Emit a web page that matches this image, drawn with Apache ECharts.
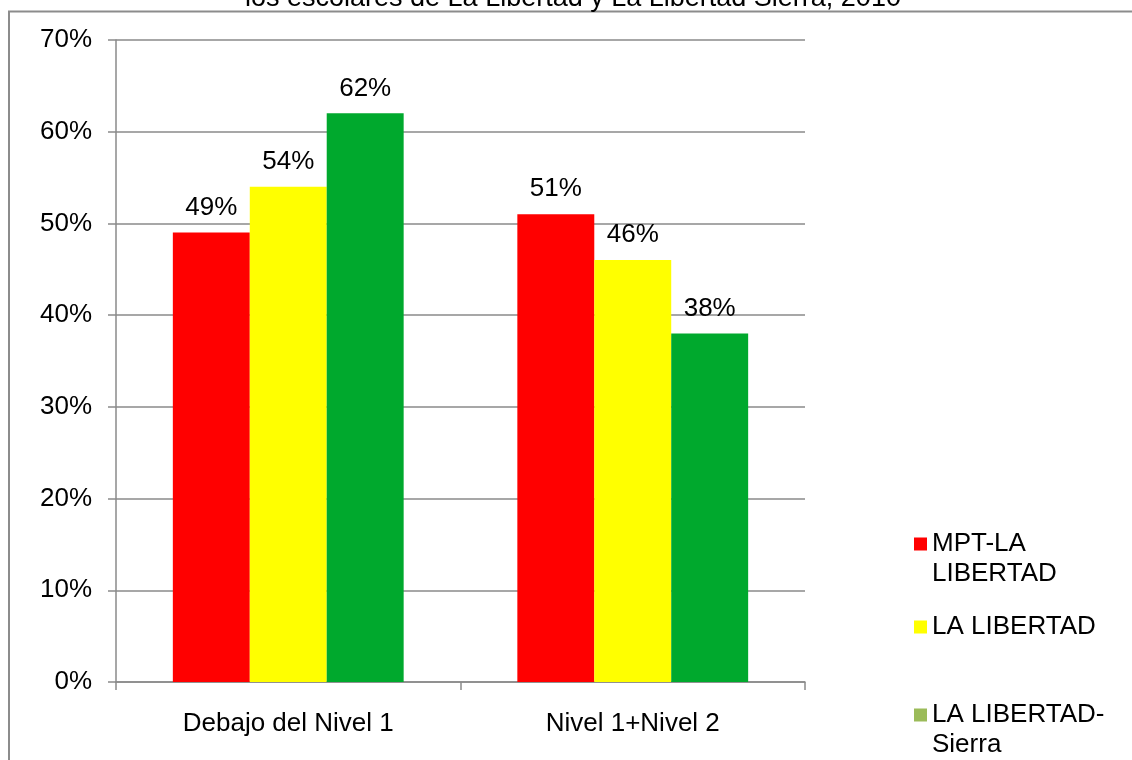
<!DOCTYPE html>
<html>
<head>
<meta charset="utf-8">
<script src="https://cdn.jsdelivr.net/npm/echarts@6/dist/echarts.min.js"></script>
<style>
  html, body { margin: 0; padding: 0; background: #fff; }
  #chart { width: 1132px; height: 760px; }
</style>
</head>
<body>
<div id="chart"></div>
<script>
// Categories and values (percent of students)
const categories = ['Debajo del Nivel 1', 'Nivel 1+Nivel 2'];
const seriesNames = ['MPT-LA LIBERTAD', 'LA LIBERTAD', 'LA LIBERTAD-Sierra'];
const mptLaLibertad = [49, 51];
const laLibertad = [54, 46];
const laLibertadSierra = [62, 38];
const yTicks = [0, 10, 20, 30, 40, 50, 60, 70];
const titleText = 'los escolares de La Libertad y La Libertad Sierra, 2010';

const FONT = 'Liberation Sans, Arial, sans-serif';
const FS = 26;
const barColors = ['#FF0000', '#FFFF00', '#00A92D'];
const legendIconColors = ['#FF0000', '#FFFF00', '#9BBB59'];
// A leading empty line keeps the first text line level with the legend swatch
const legendLabels = ['\nMPT-LA\nLIBERTAD', 'LA LIBERTAD', '\nLA LIBERTAD-\nSierra'];
const legendTops = [499, 612, 670];

const chart = echarts.init(document.getElementById('chart'));

const makeSeries = (name, data, color) => ({
  name: name,
  type: 'bar',
  data: data,
  barGap: '0%',
  barCategoryGap: '33%',
  itemStyle: { color: color },
  label: {
    show: true,
    position: 'top',
    distance: 12,
    formatter: p => p.value + '%',
    color: '#000',
    fontFamily: FONT,
    fontSize: FS
  }
});

const legends = seriesNames.map((name, i) => ({
  data: [{ name: name, icon: 'rect', itemStyle: { color: legendIconColors[i] } }],
  left: 914,
  top: legendTops[i],
  padding: 0,
  orient: 'vertical',
  itemWidth: 13,
  itemHeight: 13,
  selectedMode: false,
  formatter: () => legendLabels[i],
  textStyle: {
    color: '#000',
    fontFamily: FONT,
    fontSize: FS,
    lineHeight: 30
  }
}));

chart.setOption({
  animation: false,
  backgroundColor: '#fff',
  title: {
    text: titleText,
    left: 245,
    top: -15,
    padding: 0,
    textStyle: { color: '#000', fontFamily: FONT, fontSize: 27, fontWeight: 'normal' }
  },
  graphic: [{
    type: 'rect',
    shape: { x: 9, y: 11.5, width: 1200, height: 800 },
    style: { fill: 'none', stroke: '#8c8c8c', lineWidth: 2 },
    silent: true
  }],
  legend: legends,
  grid: { left: 116, right: 327, top: 40, bottom: 78 },
  xAxis: {
    type: 'category',
    data: categories,
    axisLine: { lineStyle: { color: '#8a8a8a', width: 1.5 } },
    axisTick: { show: true, length: 8, lineStyle: { color: '#8a8a8a', width: 1.5 } },
    axisLabel: { color: '#000', fontFamily: FONT, fontSize: FS, margin: 29 }
  },
  yAxis: {
    type: 'value',
    min: yTicks[0],
    max: yTicks[yTicks.length - 1],
    interval: 10,
    axisLine: { show: true, lineStyle: { color: '#8a8a8a', width: 1.5 } },
    axisTick: { show: true, length: 8, lineStyle: { color: '#8a8a8a', width: 1.5 } },
    splitLine: { lineStyle: { color: '#8a8a8a', width: 1.5 } },
    axisLabel: { color: '#000', fontFamily: FONT, fontSize: FS, margin: 24, formatter: '{value}%' }
  },
  series: [
    makeSeries(seriesNames[0], mptLaLibertad, barColors[0]),
    makeSeries(seriesNames[1], laLibertad, barColors[1]),
    makeSeries(seriesNames[2], laLibertadSierra, barColors[2])
  ]
});
</script>
</body>
</html>
